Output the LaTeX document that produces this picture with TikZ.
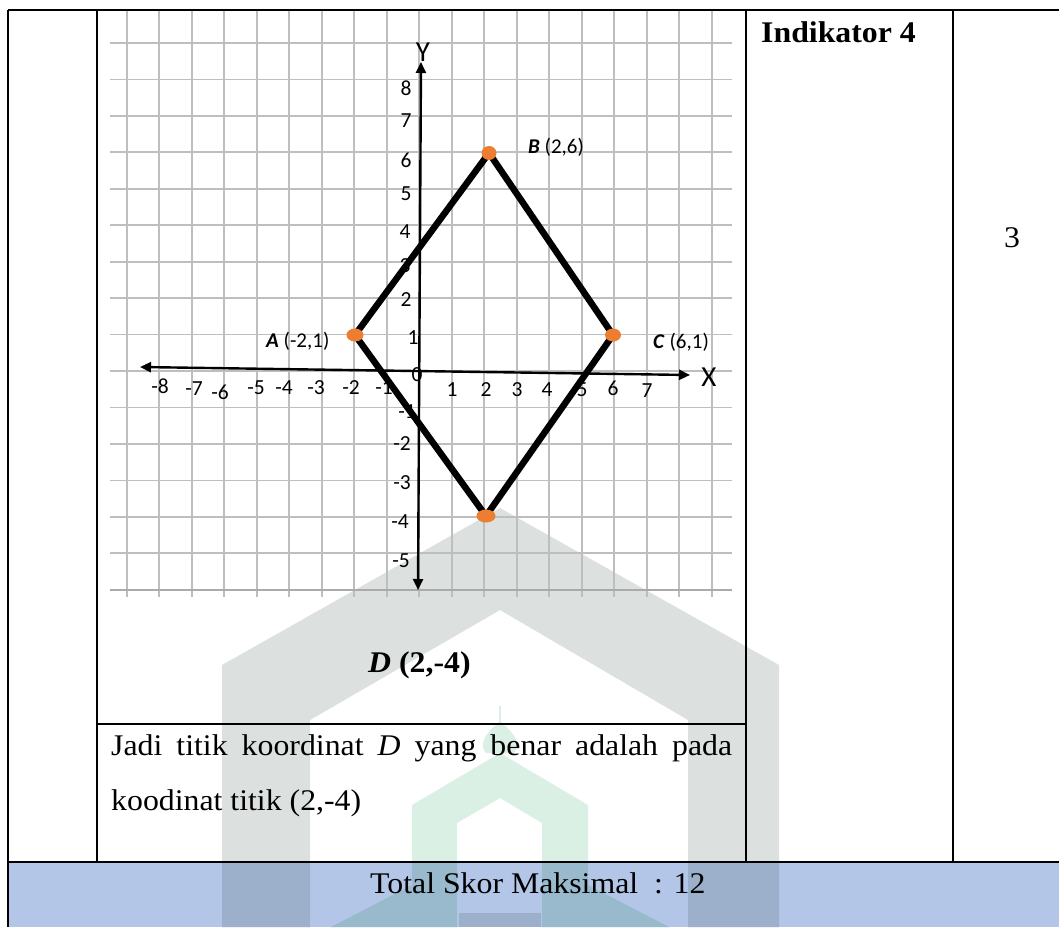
\documentclass[tikz,border=0pt]{standalone}
\usepackage{fontspec}
\setmainfont{Liberation Serif}[FakeStretch=1.06]
\newfontfamily\calib{Carlito}
\usetikzlibrary{arrows.meta}
\definecolor{gridgray}{RGB}{190,190,190}
\definecolor{gridbase}{RGB}{170,170,170}
\definecolor{wmgray}{RGB}{220,225,223}
\definecolor{wmgreen}{RGB}{219,240,228}
\definecolor{bandblue}{RGB}{180,198,231}
\definecolor{bandgray}{RGB}{156,176,203}
\definecolor{bandgreen}{RGB}{152,186,204}
\definecolor{dotorange}{RGB}{237,125,49}
\newcommand{\wmgrayshape}[1]{\fill[#1] (222,927) -- (222,665) -- (500,508) -- (779,665) -- (779,927) -- (688,927) -- (688,720) -- (500,610) -- (310,720) -- (310,927) -- cycle;}
\newcommand{\wmgreenshape}[1]{\fill[#1] (500,753) -- (588,805) -- (588,885) -- (669,927) -- (542,927) -- (542,823) -- (500,798) -- (457,823) -- (457,927) -- (331,927) -- (412,885) -- (412,805) -- cycle;
  \fill[#1] (500,721) .. controls (514,733) and (522,744) .. (514,753) -- (486,753) .. controls (478,744) and (486,733) .. (500,721) -- cycle;
  \draw[#1, line width=2.5] (500,706) -- (500,724);}
\begin{document}
\begin{tikzpicture}[x=1pt,y=-1pt,
  tline/.style={line width=2.4, black},
  gridline/.style={line width=1.7, gridgray},
  axisline/.style={line width=2.4, black, {Triangle[length=11,width=10]}-{Triangle[length=11,width=10]}},
  edge/.style={line width=6.5, black, line cap=round, line join=round},
  dot/.style={fill=dotorange},
  num/.style={font=\calib\fontsize{21.5}{23}\selectfont, inner sep=0},
  axlab/.style={font=\calib\fontsize{29}{31}\selectfont, inner sep=0},
  ptlab/.style={font=\calib\fontsize{21}{23}\selectfont, inner sep=0, anchor=west},
  body/.style={font=\fontsize{30}{35}\selectfont, inner sep=0, anchor=base west}]
\useasboundingbox (0,0) rectangle (1059,927);
\fill[white] (0,0) rectangle (1059,927);
% watermark (background)
\wmgrayshape{wmgray}
\wmgreenshape{wmgreen}
% grid
\foreach \k in {-9,...,9} \draw[gridline] ({419.3+32.5*\k},10) -- ({419.3+32.5*\k},597);
\foreach \k in {-9,...,5} \draw[gridline] (110,{371+36.45*\k}) -- (732,{371+36.45*\k});
\draw[line width=2.4, gridbase] (110,590) -- (732,590);
% axes
\coordinate (xl) at (140,367);
\coordinate (xr) at (690,375);
\coordinate (yt) at (421,62);
\coordinate (yb) at (418,590);
\draw[axisline] (xl) -- (xr);
\draw[axisline] (yb) -- (yt);
\node[axlab] (ylab) at (423,52) {Y};
\node[axlab] (xlab) at (709,377) {X};
% axis numbers
\foreach \t/\x/\y in {-8/160/386,-7/194/389,-6/220/392,-5/256/388,-4/284/388,-3/316/388,-2/351/388,-1/384/388,0/417/375,1/452/390,2/486/390,3/517/390,4/547/390,5/582/390,6/613/388,7/647/391}
  \node[num] at (\x,\y) {\t};
\foreach \t/\x/\y in {8/406/88,7/406/121,6/406/160,5/406/194,4/405/232,3/405/266,2/406/300,1/413/338,-1/407/412,-2/402/444,-3/402/483,-4/400/522,-5/401/561}
  \node[num] at (\x,\y) {\t};
% rhombus
\coordinate (A) at (355,335);
\coordinate (B) at (489,153);
\coordinate (C) at (613,335);
\coordinate (D) at (486,516);
\draw[edge] (A) -- (B) -- (C) -- (D) -- cycle;
\fill[dot] (A) ellipse [x radius=8.5, y radius=6.5];
\fill[dot] (B) ellipse [x radius=7.5, y radius=7];
\fill[dot] (C) ellipse [x radius=8, y radius=6.5];
\fill[dot] (D) ellipse [x radius=9.5, y radius=6.5];
\node[ptlab] (Alab) at (266,341) {\textbf{\textit{A}} (-2,1)};
\node[ptlab] (Blab) at (528,147) {\textbf{\textit{B}} (2,6)};
\node[ptlab] (Clab) at (653,342) {\textbf{\textit{C}} (6,1)};
% table lines
\draw[tline] (8,10) -- (1059,10);
\draw[tline] (8,10) -- (8,927);
\draw[tline] (97,10) -- (97,862);
\draw[tline] (746,10) -- (746,862);
\draw[tline] (953,10) -- (953,862);
\draw[tline] (97,724) -- (746,724);
% texts
\node[body] (ind) at (761,42) {\bfseries Indikator 4};
\node[body, anchor=base] (score) at (1012,247) {3};
\node[body] (dlab) at (368,672) {\bfseries\textit{D} (2,-4)};
\node[body] (j1) at (111,755) {\makebox[621pt][s]{Jadi titik koordinat \textit{D} yang benar adalah pada}};
\node[body] (j2) at (111,810) {koodinat titik (2,-4)};
% bottom band
\fill[bandblue] (9,862) rectangle (1059,927);
\begin{scope}
  \clip (9,862) rectangle (1059,927);
  \wmgrayshape{bandgray}
  \wmgreenshape{bandgreen}
  \fill[bandgray] (459,913) rectangle (541,927);
\end{scope}
\draw[tline] (8,862) -- (1059,862);
\node[body] (tot) at (370,893) {Total Skor Maksimal\ \ : 12};
\end{tikzpicture}
\end{document}
